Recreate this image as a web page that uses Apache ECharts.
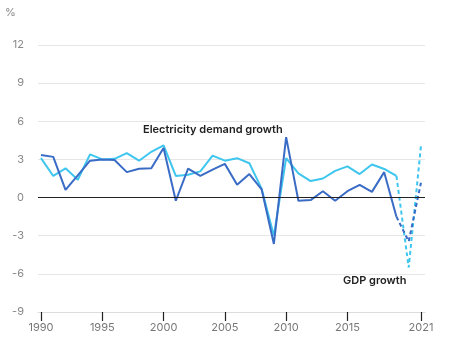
<!DOCTYPE html>
<html>
<head>
<meta charset="utf-8">
<script src="https://cdn.jsdelivr.net/npm/echarts@6/dist/echarts.min.js"></script>
<style>html,body{margin:0;padding:0;background:#fff}#c{width:455px;height:355px}</style>
</head>
<body>
<div id="c"></div>
<script>
var years = [1990,1991,1992,1993,1994,1995,1996,1997,1998,1999,2000,2001,2002,2003,2004,2005,2006,2007,2008,2009,2010,2011,2012,2013,2014,2015,2016,2017,2018,2019,2020,2021];
var electricityGrowth = [3.35,3.2,0.6,1.75,2.9,3.0,2.95,2.0,2.27,2.3,3.9,-0.25,2.27,1.7,2.2,2.65,1.0,1.85,0.65,-3.65,4.75,-0.25,-0.2,0.5,-0.25,0.5,1.0,0.45,2.0,-1.5,-3.45,1.17];
var gdpGrowth = [3.1,1.7,2.3,1.4,3.4,3.0,3.05,3.5,2.9,3.6,4.1,1.7,1.8,2.06,3.3,2.9,3.1,2.7,0.7,-3.0,3.1,1.9,1.3,1.5,2.1,2.45,1.85,2.6,2.25,1.7,-5.5,4.05];
var projectionFrom = 2019;
var xTickLabels = [1990,1995,2000,2005,2010,2015,2021];
var yTicks = [-9,-6,-3,0,3,6,9,12];

function pairs(vals, solid) {
  var out = [];
  for (var i = 0; i < years.length; i++) {
    if (solid ? years[i] <= projectionFrom : years[i] >= projectionFrom) out.push([years[i], vals[i]]);
  }
  return out;
}
var darkC = '#3a6cc6', lightC = '#3ec6ee';
var font = 'Inter, "Open Sans", sans-serif';
var chart = echarts.init(document.getElementById('c'));
chart.setOption({
  animation: false,
  grid: {left: 38, right: 30, top: 45, bottom: 43},
  xAxis: {
    type: 'value', min: 1989.755, max: 2021.33,
    axisLine: {onZero: false, lineStyle: {color: '#dcdcdc'}},
    axisTick: {show: true, customValues: xTickLabels, length: 9, lineStyle: {color: '#222', width: 1.2}},
    axisLabel: {customValues: xTickLabels, color: '#777', fontSize: 11, fontFamily: font, margin: 10, formatter: function(v){return String(v);}},
    splitLine: {show: false}
  },
  yAxis: {
    type: 'value', min: yTicks[0], max: yTicks[yTicks.length-1], interval: 3,
    axisLine: {show: false}, axisTick: {show: false},
    axisLabel: {color: '#888', fontSize: 11, fontFamily: font, margin: 14},
    splitLine: {lineStyle: {color: '#e6e6e6'}}
  },
  graphic: [
    {type: 'text', left: 5, top: 7, style: {text: '%', fill: '#888', font: '11px ' + font}},
    {type: 'text', left: 143, top: 124, style: {text: 'Electricity demand growth', fill: '#222', font: '600 11px ' + font}},
    {type: 'text', left: 343, top: 275, style: {text: 'GDP growth', fill: '#222', font: '600 11px ' + font}}
  ],
  series: [
    {type: 'line', data: pairs(gdpGrowth, true), symbol: 'none', lineStyle: {color: lightC, width: 2}, z: 3,
     markLine: {silent: true, symbol: 'none', label: {show: false}, lineStyle: {color: '#222', width: 1, type: 'solid'}, data: [{yAxis: 0}]}},
    {type: 'line', data: pairs(gdpGrowth, false), symbol: 'none', lineStyle: {color: lightC, width: 2, type: [4, 3]}, z: 3},
    {type: 'line', data: pairs(electricityGrowth, true), symbol: 'none', lineStyle: {color: darkC, width: 2}, z: 4},
    {type: 'line', data: pairs(electricityGrowth, false), symbol: 'none', lineStyle: {color: darkC, width: 2, type: [4, 3]}, z: 4}
  ]
});
</script>
</body>
</html>
